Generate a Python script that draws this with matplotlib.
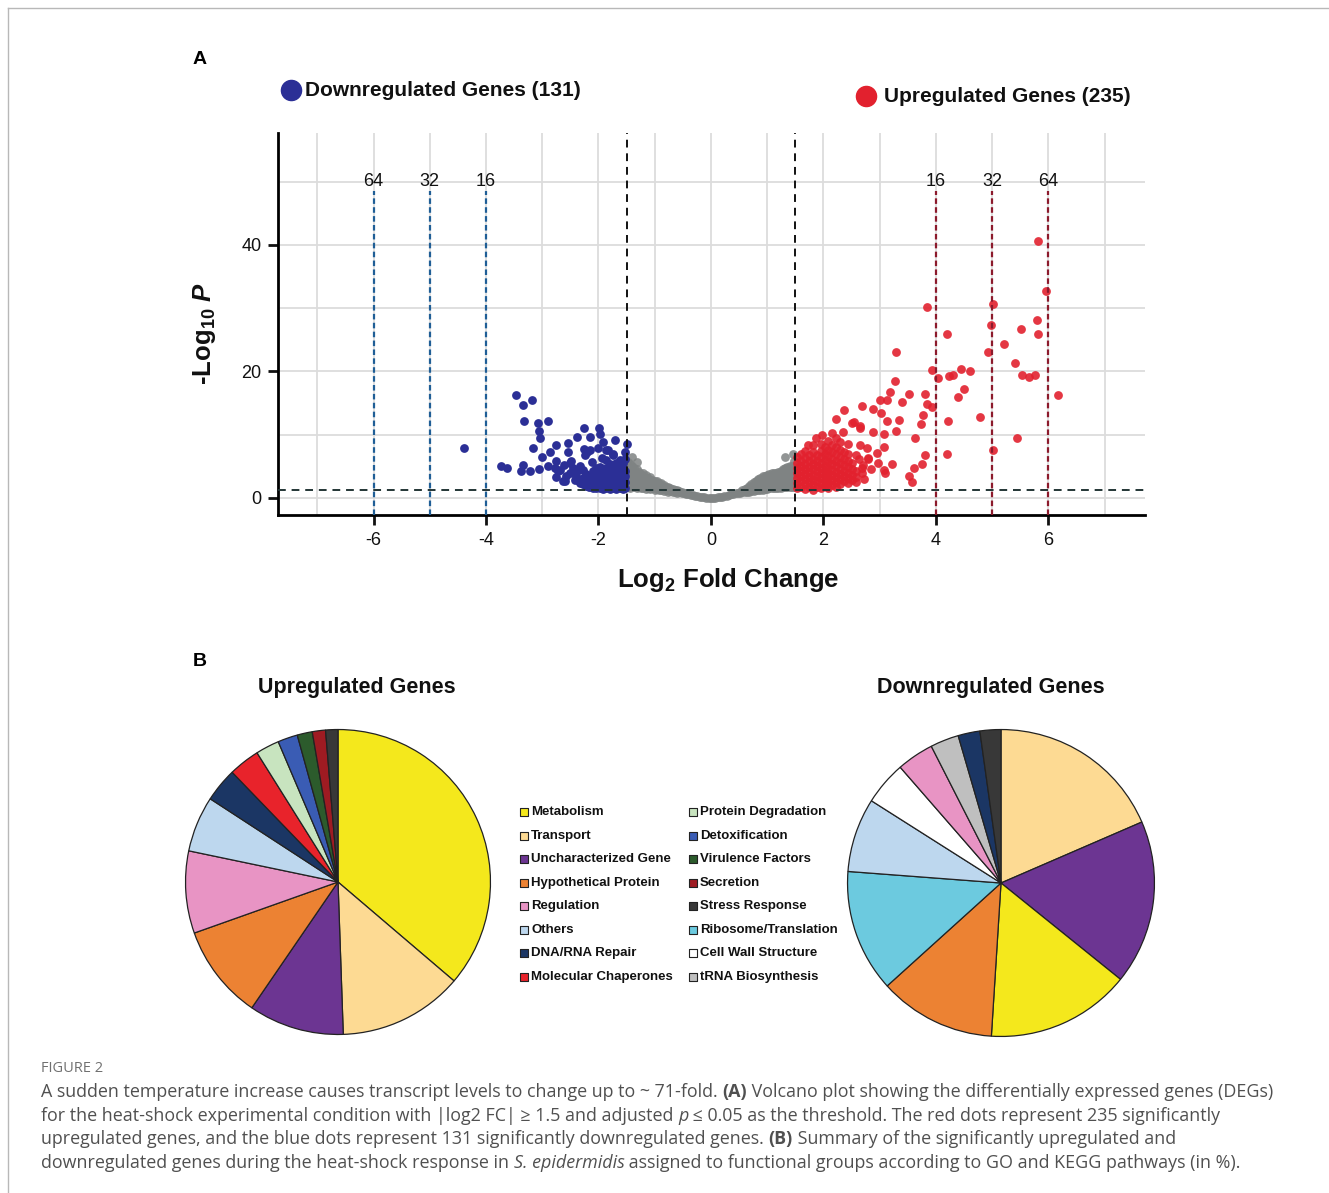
import matplotlib
matplotlib.use("Agg")
from matplotlib import pyplot as plt

plt.rcParams['font.family'] = ['Liberation Sans', 'DejaVu Sans']
plt.rcParams['axes.unicode_minus'] = False
plt.rcParams['mathtext.fontset'] = 'custom'
plt.rcParams['mathtext.rm'] = 'Liberation Sans:bold'
plt.rcParams['mathtext.it'] = 'Liberation Sans:italic:bold'
plt.rcParams['mathtext.bf'] = 'Liberation Sans:bold'

W, H = 1329, 1193

#### Volcano data (log2 FC, -log10 P) ####

# scattered downregulated genes
down_pts = [(-3.47, 16.3), (-3.34, 14.7), (-3.19, 15.5), (-3.32, 12.2), (-3.08, 11.8), (-2.90, 12.2),
            (-3.06, 10.6), (-3.04, 9.5), (-4.39, 7.9), (-3.17, 7.9), (-3.74, 5.1), (-3.62, 4.7),
            (-3.37, 4.3), (-3.34, 5.2), (-3.21, 4.3), (-3.06, 4.5), (-3.00, 6.4), (-2.86, 7.2),
            (-2.76, 8.3), (-2.54, 8.7), (-2.39, 9.6), (-2.26, 11.1), (-2.15, 9.7), (-1.99, 11.0),
            (-1.98, 10.1), (-1.70, 9.2), (-1.50, 8.5), (-2.55, 7.3), (-2.26, 7.7), (-2.21, 7.3),
            (-2.01, 7.9), (-1.83, 7.6), (-1.74, 6.9), (-1.53, 7.2), (-2.75, 5.8), (-2.48, 5.8),
            (-2.12, 5.7), (-1.94, 6.3), (-2.78, 4.7), (-2.69, 4.4), (-2.45, 4.8), (-2.75, 3.3),
            (-2.59, 2.7), (-2.34, 2.6), (-2.27, 4.4), (-2.33, 2.3), (-2.72, 4.3), (-2.57, 3.4),
            (-2.63, 2.6), (-2.51, 5.5), (-2.24, 6.8), (-2.15, 7.6), (-1.92, 8.9), (-1.86, 7.6),
            (-1.74, 6.8), (-1.62, 6.0), (-1.86, 6.0), (-2.40, 3.5), (-2.50, 3.9), (-2.38, 4.2),
            (-2.62, 5.2), (-2.90, 5.1), (-2.42, 2.9), (-2.33, 5.0)]

# dense block of downregulated genes near the cutoff, by column
down_dense = {-2.28: [2.2, 3.2], -2.22: [1.9, 2.8, 3.8], -2.16: [1.7, 2.6, 3.5],
              -2.10: [1.6, 2.4, 3.3, 4.2], -2.04: [1.5, 2.2, 3.0, 3.9, 4.7],
              -1.98: [1.5, 2.3, 3.1, 4.0, 4.9], -1.92: [1.4, 2.1, 2.9, 3.7, 4.5],
              -1.86: [1.5, 2.3, 3.1, 3.9, 4.8], -1.80: [1.4, 2.1, 2.9, 3.6, 4.4, 5.3],
              -1.74: [1.5, 2.3, 3.1, 4.0, 4.9], -1.68: [1.4, 2.1, 2.8, 3.6, 4.5, 5.5],
              -1.62: [1.5, 2.3, 3.1, 4.0, 4.9], -1.56: [1.4, 2.1, 2.9, 3.7, 4.6, 5.6],
              -1.52: [1.6, 2.5, 3.4, 4.3, 6.2]}

# scattered upregulated genes
up_pts = [(5.81, 40.6), (5.96, 32.7), (3.84, 30.2), (5.01, 30.6), (4.98, 27.4), (5.80, 28.1),
          (5.52, 26.7), (5.81, 25.9), (4.19, 25.9), (5.22, 24.4), (3.29, 23.0), (4.93, 23.0),
          (5.40, 21.4), (3.93, 20.2), (4.03, 18.9), (4.23, 19.3), (4.31, 19.4), (4.45, 20.4),
          (4.61, 20.0), (5.53, 19.4), (5.65, 19.1), (5.77, 19.4), (6.18, 16.2), (3.27, 18.5),
          (3.19, 16.8), (3.13, 15.5), (3.01, 15.5), (3.53, 16.4), (3.81, 16.4), (3.39, 15.2),
          (4.50, 17.2), (4.39, 16.0), (3.84, 14.8), (3.93, 14.3), (2.68, 14.6), (2.88, 14.1),
          (3.02, 13.4), (3.14, 12.2), (3.35, 12.3), (3.78, 13.1), (3.73, 11.7), (4.21, 12.1),
          (4.79, 12.8), (2.37, 13.9), (2.22, 12.5), (3.29, 10.6), (3.08, 10.1), (2.88, 10.4),
          (2.54, 12.0), (2.65, 11.0), (3.63, 9.5), (5.44, 9.4), (2.65, 8.3), (2.77, 7.9),
          (3.07, 8.1), (2.96, 7.1), (2.63, 6.1), (2.79, 6.1), (2.98, 5.6), (3.22, 5.4),
          (3.81, 6.8), (4.19, 6.9), (5.01, 7.5), (3.75, 5.4), (3.61, 4.7), (3.08, 4.4),
          (3.10, 3.9), (3.52, 3.5), (3.58, 2.5), (2.68, 4.7), (2.68, 3.9), (1.87, 9.4),
          (2.80, 6.3), (2.15, 10.2), (2.35, 10.5), (2.50, 11.8), (2.65, 11.3), (2.70, 5.2),
          (2.72, 3.0), (2.85, 4.5), (1.72, 8.4), (1.98, 10.0)]

# dense block of upregulated genes near the cutoff, by column
up_dense = {1.53: [1.5, 2.3, 3.1, 3.9, 4.7, 5.5, 6.4], 1.60: [1.8, 2.6, 3.4, 4.2, 5.0, 5.9, 7.0],
            1.67: [1.4, 2.2, 3.0, 3.8, 4.6, 5.4, 6.3, 7.4], 1.74: [1.7, 2.5, 3.3, 4.1, 4.9, 5.8, 6.8],
            1.81: [1.3, 2.1, 2.9, 3.7, 4.5, 5.3, 6.2, 7.2, 8.3], 1.88: [1.8, 2.6, 3.4, 4.2, 5.0, 5.9, 6.8],
            1.95: [1.5, 2.3, 3.1, 3.9, 4.7, 5.5, 6.4, 7.4, 8.6], 2.02: [1.9, 2.7, 3.5, 4.3, 5.1, 6.0, 7.0, 8.0],
            2.09: [1.6, 2.4, 3.2, 4.0, 4.8, 5.7, 6.6, 7.6, 9.0], 2.16: [2.0, 2.8, 3.6, 4.4, 5.3, 6.2, 7.2, 8.3],
            2.23: [1.7, 2.5, 3.3, 4.1, 5.0, 5.9, 6.9, 8.0, 9.4], 2.30: [2.2, 3.0, 3.8, 4.6, 5.5, 6.5, 7.6, 8.8],
            2.37: [2.6, 3.4, 4.3, 5.2, 6.2, 7.3], 2.44: [2.4, 3.2, 4.0, 4.9, 5.9, 7.0, 8.5],
            2.51: [2.8, 3.7, 4.6, 5.6], 2.58: [2.5, 3.3, 4.2, 6.8]}

# non significant genes (grey cloud), by column
ns_cols = {-1.48: [1.8, 2.6, 3.4, 4.2, 5.0, 5.7], -1.44: [1.6, 2.3, 3.0, 3.8, 4.6, 5.4],
           -1.40: [1.9, 2.7, 3.5, 4.3, 5.1], -1.36: [1.7, 2.4, 3.1, 3.9, 4.7],
           -1.32: [1.5, 2.2, 3.0, 3.8, 4.5], -1.28: [1.7, 2.5, 3.3, 4.1], -1.24: [1.5, 2.2, 3.0, 3.8],
           -1.20: [1.6, 2.4, 3.2, 4.0], -1.16: [1.4, 2.1, 2.9, 3.6], -1.12: [1.6, 2.4, 3.2],
           -1.08: [1.4, 2.1, 2.8, 3.3], -1.04: [1.5, 2.2, 2.9], -1.00: [1.3, 2.0, 2.7],
           -0.96: [1.4, 2.1, 2.6], -0.92: [1.2, 1.8, 2.4], -0.88: [1.3, 1.9, 2.3],
           -0.84: [1.1, 1.6, 2.1], -0.80: [1.2, 1.8], -0.76: [1.0, 1.5, 1.8], -0.72: [1.1, 1.6],
           -0.68: [0.9, 1.4], -0.64: [1.0, 1.3], -0.60: [0.8, 1.2], -0.56: [0.9, 1.1],
           -0.52: [0.7, 1.0], -0.48: [0.8], -0.44: [0.6, 0.8], -0.40: [0.6], -0.36: [0.5],
           -0.32: [0.4], -0.28: [0.35], -0.24: [0.3], -0.20: [0.2], -0.16: [0.15], -0.12: [0.1],
           -0.08: [0.05], -0.04: [0.02], 0.00: [0.0], 0.04: [0.03], 0.08: [0.06], 0.12: [0.1],
           0.16: [0.15], 0.20: [0.2], 0.24: [0.3], 0.28: [0.35], 0.32: [0.45], 0.36: [0.55],
           0.40: [0.6], 0.44: [0.7], 0.48: [0.75], 0.52: [0.8, 1.0], 0.56: [0.9, 1.2],
           0.60: [0.9, 1.4], 0.64: [1.0, 1.6], 0.68: [1.0, 1.5, 1.9], 0.72: [1.1, 1.7, 2.2],
           0.76: [1.1, 1.8, 2.5], 0.80: [1.2, 1.9, 2.7], 0.84: [1.2, 2.0, 2.8, 3.0],
           0.88: [1.3, 2.1, 2.9, 3.2], 0.92: [1.3, 2.1, 2.9, 3.4], 0.96: [1.4, 2.2, 3.0, 3.5],
           1.00: [1.4, 2.2, 3.0, 3.6], 1.04: [1.5, 2.3, 3.1, 3.8], 1.08: [1.5, 2.3, 3.1, 3.9],
           1.12: [1.5, 2.3, 3.1, 4.0], 1.16: [1.6, 2.4, 3.2, 4.0], 1.20: [1.6, 2.4, 3.2, 4.1],
           1.24: [1.6, 2.4, 3.2, 4.0, 4.3], 1.28: [1.7, 2.5, 3.3, 4.1, 4.5],
           1.32: [1.7, 2.5, 3.3, 4.1, 4.7], 1.36: [1.7, 2.5, 3.3, 4.1, 4.9],
           1.40: [1.8, 2.6, 3.4, 4.2, 5.0], 1.44: [1.8, 2.6, 3.4, 4.2, 5.0],
           1.48: [1.8, 2.6, 3.4, 4.2, 5.0, 5.8]}
ns_extra = [(-1.41, 6.5), (-1.32, 5.7), (1.32, 6.5), (1.46, 7.0)]

lfc_cut = 1.5
p_cut = 1.3
fold_pos = [4, 5, 6]
fold_labels = ['16', '32', '64']

#### Pie data (in %) ####
up_groups = ['Metabolism', 'Transport', 'Uncharacterized Gene', 'Hypothetical Protein', 'Regulation',
             'Others', 'DNA/RNA Repair', 'Molecular Chaperones', 'Protein Degradation', 'Detoxification',
             'Virulence Factors', 'Secretion', 'Stress Response']
up_share = [36.2, 13.2, 10.1, 10.0, 8.7, 5.9, 3.6, 3.3, 2.5, 2.1, 1.6, 1.4, 1.3]

down_groups = ['Transport', 'Uncharacterized Gene', 'Metabolism', 'Hypothetical Protein',
               'Ribosome/Translation', 'Others', 'Cell Wall Structure', 'Regulation',
               'tRNA Biosynthesis', 'DNA/RNA Repair', 'Stress Response']
down_share = [18.5, 17.3, 15.2, 12.3, 12.9, 7.8, 4.6, 3.9, 3.0, 2.3, 2.2]

legend_left = ['Metabolism', 'Transport', 'Uncharacterized Gene', 'Hypothetical Protein', 'Regulation',
               'Others', 'DNA/RNA Repair', 'Molecular Chaperones']
legend_right = ['Protein Degradation', 'Detoxification', 'Virulence Factors', 'Secretion',
                'Stress Response', 'Ribosome/Translation', 'Cell Wall Structure', 'tRNA Biosynthesis']

cat_colors = {'Metabolism': '#f4e81c', 'Transport': '#fdda93', 'Uncharacterized Gene': '#6c3592',
              'Hypothetical Protein': '#ec8233', 'Regulation': '#e894c4', 'Others': '#bdd7ee',
              'DNA/RNA Repair': '#1b3664', 'Molecular Chaperones': '#e8232b',
              'Protein Degradation': '#c8e4bf', 'Detoxification': '#3a5cb4',
              'Virulence Factors': '#2c5b2c', 'Secretion': '#9e1b22', 'Stress Response': '#383838',
              'Ribosome/Translation': '#6ccadf', 'Cell Wall Structure': '#ffffff',
              'tRNA Biosynthesis': '#bfbfbf'}

caption_lines = [
    [("A sudden temperature increase causes transcript levels to change up to ~ 71-fold. ", 'n'), ("(A)", 'b'),
     (" Volcano plot showing the differentially expressed genes (DEGs)", 'n')],
    [("for the heat-shock experimental condition with |log2 FC| \u2265 1.5 and adjusted ", 'n'), ("p", 'i'),
     (" \u2264 0.05 as the threshold. The red dots represent 235 significantly", 'n')],
    [("upregulated genes, and the blue dots represent 131 significantly downregulated genes. ", 'n'), ("(B)", 'b'),
     (" Summary of the significantly upregulated and", 'n')],
    [("downregulated genes during the heat-shock response in ", 'n'), ("S. epidermidis", 'i'),
     (" assigned to functional groups according to GO and KEGG pathways (in %).", 'n')],
]


def unpack(pts, cols):
    xs = [p[0] for p in pts]
    ys = [p[1] for p in pts]
    for x, col in cols.items():
        for y in col:
            xs.append(x)
            ys.append(y)
    return xs, ys


fig = plt.figure(figsize=(W / 100, H / 100), dpi=100)

# overlay in pixel coordinates for labels / legend / caption
ov = fig.add_axes([0, 0, 1, 1])
ov.set_xlim(0, W)
ov.set_ylim(H, 0)
ov.axis('off')
ov.plot([8, W], [8, 8], color='#b8b8b8', lw=1)
ov.plot([8, 8], [8, H], color='#b8b8b8', lw=1)

#### Panel A: volcano ####
ax = fig.add_axes([278 / W, 1 - 515 / H, (1145 - 278) / W, (515 - 133) / H])
ax.set_xlim(-7.7, 7.72)
ax.set_ylim(-2.7, 57.7)
ax.set_xticks([-6, -4, -2, 0, 2, 4, 6])
ax.set_xticks([-7, -5, -3, -1, 1, 3, 5, 7], minor=True)
ax.set_yticks([0, 20, 40])
ax.set_yticks([10, 30, 50], minor=True)
ax.grid(which='both', color='#dcdcdc', lw=1.3)
ax.set_axisbelow(True)
ax.tick_params(which='minor', length=0)
ax.tick_params(which='major', length=7, width=2, labelsize=13, pad=5, colors='#111')
for s in ['top', 'right']:
    ax.spines[s].set_visible(False)
for s in ['left', 'bottom']:
    ax.spines[s].set_linewidth(2)

dot = 40
nx, ny = unpack(ns_extra, ns_cols)
ax.scatter(nx, ny, s=dot, color='#7f8383', alpha=0.85, linewidths=0, zorder=2)
dx, dy = unpack(down_pts, down_dense)
ax.scatter(dx, dy, s=dot, color='#2b2f96', linewidths=0, zorder=2)
ux, uy = unpack(up_pts, up_dense)
ax.scatter(ux, uy, s=dot, color='#e2212e', alpha=0.9, linewidths=0, zorder=2)

ax.axvline(-lfc_cut, color='#111', lw=1.4, ls=(0, (4, 3)), zorder=3)
ax.axvline(lfc_cut, color='#111', lw=1.4, ls=(0, (4, 3)), zorder=3)
ax.axhline(p_cut, color='#233535', lw=1.4, ls=(0, (4, 3)), zorder=3)

ax.vlines([-f for f in fold_pos], -2.7, 48.6, colors='#1f5e96', lw=1.6, linestyles=(0, (2.5, 1.5)), zorder=3)
ax.vlines(fold_pos, -2.7, 48.6, colors='#8c1a2c', lw=1.6, linestyles=(0, (2.5, 1.5)), zorder=3)
for f, lab in zip(fold_pos, fold_labels):
    ax.text(f, 50.0, lab, ha='center', va='center', fontsize=13, color='#111')
    ax.text(-f, 50.0, lab, ha='center', va='center', fontsize=13, color='#111')

ov.text(728, 580, r'Log$_{\mathrm{2}}$ Fold Change', ha='center', va='center', fontsize=18.5,
        fontweight='bold', color='#111')
ov.text(205, 333, r'-Log$_{\mathrm{10}}$ $\mathit{P}$', ha='center', va='center', fontsize=18.5,
        fontweight='bold', rotation=90, color='#111')

ov.scatter([291], [90], s=210, color='#2b2f96', zorder=3)
ov.text(305, 90, 'Downregulated Genes (131)', fontsize=15, fontweight='bold', va='center', color='#111')
ov.scatter([866], [96], s=210, color='#e2212e', zorder=3)
ov.text(884, 96, 'Upregulated Genes (235)', fontsize=15, fontweight='bold', va='center', color='#111')

ov.text(200, 60, 'A', fontsize=14, fontweight='bold', ha='center', va='center')
ov.text(200, 662, 'B', fontsize=14, fontweight='bold', ha='center', va='center')

#### Panel B: pies ####
wp = dict(edgecolor='#222222', linewidth=0.9)
axp1 = fig.add_axes([184 / W, 1 - 1036 / H, 308 / W, 308 / H])
axp1.pie(up_share, colors=[cat_colors[g] for g in up_groups], startangle=90, counterclock=False,
         wedgeprops=wp)
axp1.set_xlim(-1.01, 1.01)
axp1.set_ylim(-1.01, 1.01)

axp2 = fig.add_axes([846 / W, 1 - 1038 / H, 310 / W, 310 / H])
axp2.pie(down_share, colors=[cat_colors[g] for g in down_groups], startangle=90, counterclock=False,
         wedgeprops=wp)
axp2.set_xlim(-1.01, 1.01)
axp2.set_ylim(-1.01, 1.01)

ov.text(357, 687, 'Upregulated Genes', fontsize=15.5, fontweight='bold', ha='center', va='center', color='#111')
ov.text(991, 687, 'Downregulated Genes', fontsize=15.5, fontweight='bold', ha='center', va='center', color='#111')

rows = [812, 836, 859, 883, 906, 930, 953, 977]
for col_x, names in [(524, legend_left), (693, legend_right)]:
    ov.scatter([col_x] * len(names), rows, marker='s', s=30,
               color=[cat_colors[n] for n in names], edgecolors='#222', linewidths=0.8, zorder=3)
    for yy, n in zip(rows, names):
        ov.text(col_x + 7, yy, n, fontsize=9.5, fontweight='bold', va='center', color='#111')

#### Caption ####
renderer = fig.canvas.get_renderer()
cap_font = ['Open Sans', 'DejaVu Sans']


def rich_line(x, y, parts, size, color):
    for txt, st in parts:
        kw = dict(fontsize=size, color=color, family=cap_font, va='baseline', ha='left')
        if st == 'b':
            kw['fontweight'] = 'bold'
        if st == 'i':
            kw['fontstyle'] = 'italic'
        ov.text(x, y, txt, **kw)
        probe = ov.text(0, 0, '|' + txt + '|', **kw)
        bar = ov.text(0, 0, '||', **kw)
        w = probe.get_window_extent(renderer).width - bar.get_window_extent(renderer).width
        probe.remove()
        bar.remove()
        x += w


ov.text(41, 1068, 'FIGURE 2', fontsize=10.5, color='#707070', family=cap_font, va='center')
for i, parts in enumerate(caption_lines):
    rich_line(41, 1097 + i * 23.7, parts, 12.85, '#505050')

fig.savefig('out.png', dpi=100)
